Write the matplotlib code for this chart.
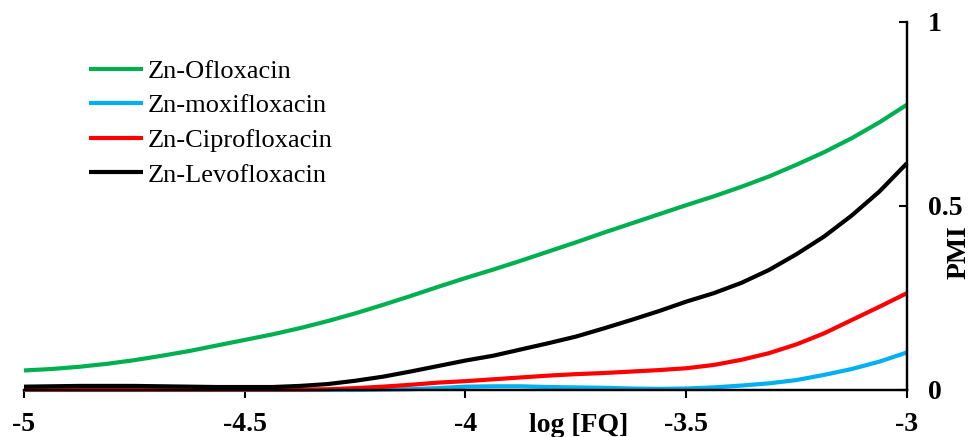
import matplotlib
matplotlib.use("Agg")
import matplotlib.pyplot as plt

plt.rcParams["font.family"] = ["Liberation Serif", "DejaVu Serif"]

# log [FQ] positions and PMI values
log_fq = [-5, -4.9375, -4.875, -4.8125, -4.75, -4.6875, -4.625, -4.5625,
          -4.5, -4.4375, -4.375, -4.3125, -4.25, -4.1875, -4.125, -4.0625,
          -4, -3.9375, -3.875, -3.8125, -3.75, -3.6875, -3.625, -3.5625,
          -3.5, -3.4375, -3.375, -3.3125, -3.25, -3.1875, -3.125, -3.0625,
          -3]
pmi_oflox = [0.053, 0.057, 0.063, 0.071, 0.081, 0.093, 0.106, 0.121,
             0.136, 0.151, 0.168, 0.187, 0.208, 0.231, 0.255, 0.280,
             0.304, 0.327, 0.351, 0.376, 0.401, 0.427, 0.452, 0.477,
             0.502, 0.526, 0.552, 0.580, 0.612, 0.646, 0.684, 0.727,
             0.775]
pmi_moxi = [0.0, 0.0, 0.0, 0.0, 0.0, 0.0, 0.0, 0.0,
            0.0, 0.0, 0.0, 0.0, 0.0, 0.001, 0.002, 0.005,
            0.009, 0.010, 0.010, 0.008, 0.007, 0.006, 0.004, 0.003,
            0.004, 0.007, 0.012, 0.018, 0.027, 0.041, 0.057, 0.077,
            0.102]
pmi_cipro = [0.001, 0.001, 0.001, 0.001, 0.001, 0.001, 0.001, 0.001,
             0.001, 0.001, 0.001, 0.002, 0.005, 0.009, 0.014, 0.020,
             0.024, 0.029, 0.034, 0.039, 0.043, 0.046, 0.050, 0.054,
             0.059, 0.068, 0.082, 0.100, 0.124, 0.154, 0.190, 0.226,
             0.263]
pmi_levo = [0.009, 0.010, 0.011, 0.011, 0.011, 0.010, 0.009, 0.008,
            0.008, 0.008, 0.011, 0.016, 0.025, 0.036, 0.050, 0.065,
            0.080, 0.093, 0.110, 0.127, 0.145, 0.167, 0.190, 0.214,
            0.240, 0.263, 0.291, 0.326, 0.369, 0.417, 0.474, 0.539,
            0.616]

series = [
    ("Zn-Ofloxacin", pmi_oflox, "#00B050"),
    ("Zn-moxifloxacin", pmi_moxi, "#00B0F0"),
    ("Zn-Ciprofloxacin", pmi_cipro, "#FF0000"),
    ("Zn-Levofloxacin", pmi_levo, "#000000"),
]
xticks = [-5, -4.5, -4, -3.5, -3]
xtick_labels = ["-5", "-4.5", "-4", "-3.5", "-3"]
yticks = [0, 0.5, 1]
ytick_labels = ["0", "0.5", "1"]

fig = plt.figure(figsize=(9.77, 4.37), dpi=100)
ax = fig.add_axes([0.0246, 0.1076, 0.9037, 0.8424])

for label, vals, col in series:
    ax.plot(log_fq, vals, color=col, linewidth=3, label=label,
            solid_capstyle="butt", solid_joinstyle="round", clip_on=False)

ax.set_xlim(-5, -3)
ax.set_ylim(0, 1)
ax.set_xticks(xticks)
ax.set_xticklabels(xtick_labels)
ax.set_yticks(yticks)
ax.set_yticklabels(ytick_labels)

ax.spines["left"].set_visible(False)
ax.spines["top"].set_visible(False)
ax.spines["right"].set_linewidth(1.75)
ax.spines["bottom"].set_linewidth(1.75)
ax.yaxis.tick_right()
ax.tick_params(axis="y", direction="in", length=6, width=1.5, pad=15,
               labelsize=20)
ax.tick_params(axis="x", direction="out", length=6, width=1.5, pad=10,
               labelsize=20)
for t in ax.get_xticklabels() + ax.get_yticklabels():
    t.set_fontweight("bold")

fig.text(0.592, 0.012, "log [FQ]", fontsize=20, fontweight="bold",
         ha="center", va="baseline")
fig.text(0.982, 0.423, "PMI", fontsize=20, fontweight="bold",
         rotation=90, ha="center", va="center")

ax.legend(loc="upper left", bbox_to_anchor=(0.0911, 0.864),
          bbox_transform=fig.transFigure, frameon=False,
          fontsize=19, handlelength=2.05, handletextpad=0.16,
          labelspacing=0.42, borderpad=0, borderaxespad=0)

fig.savefig("out.png", dpi=100)
